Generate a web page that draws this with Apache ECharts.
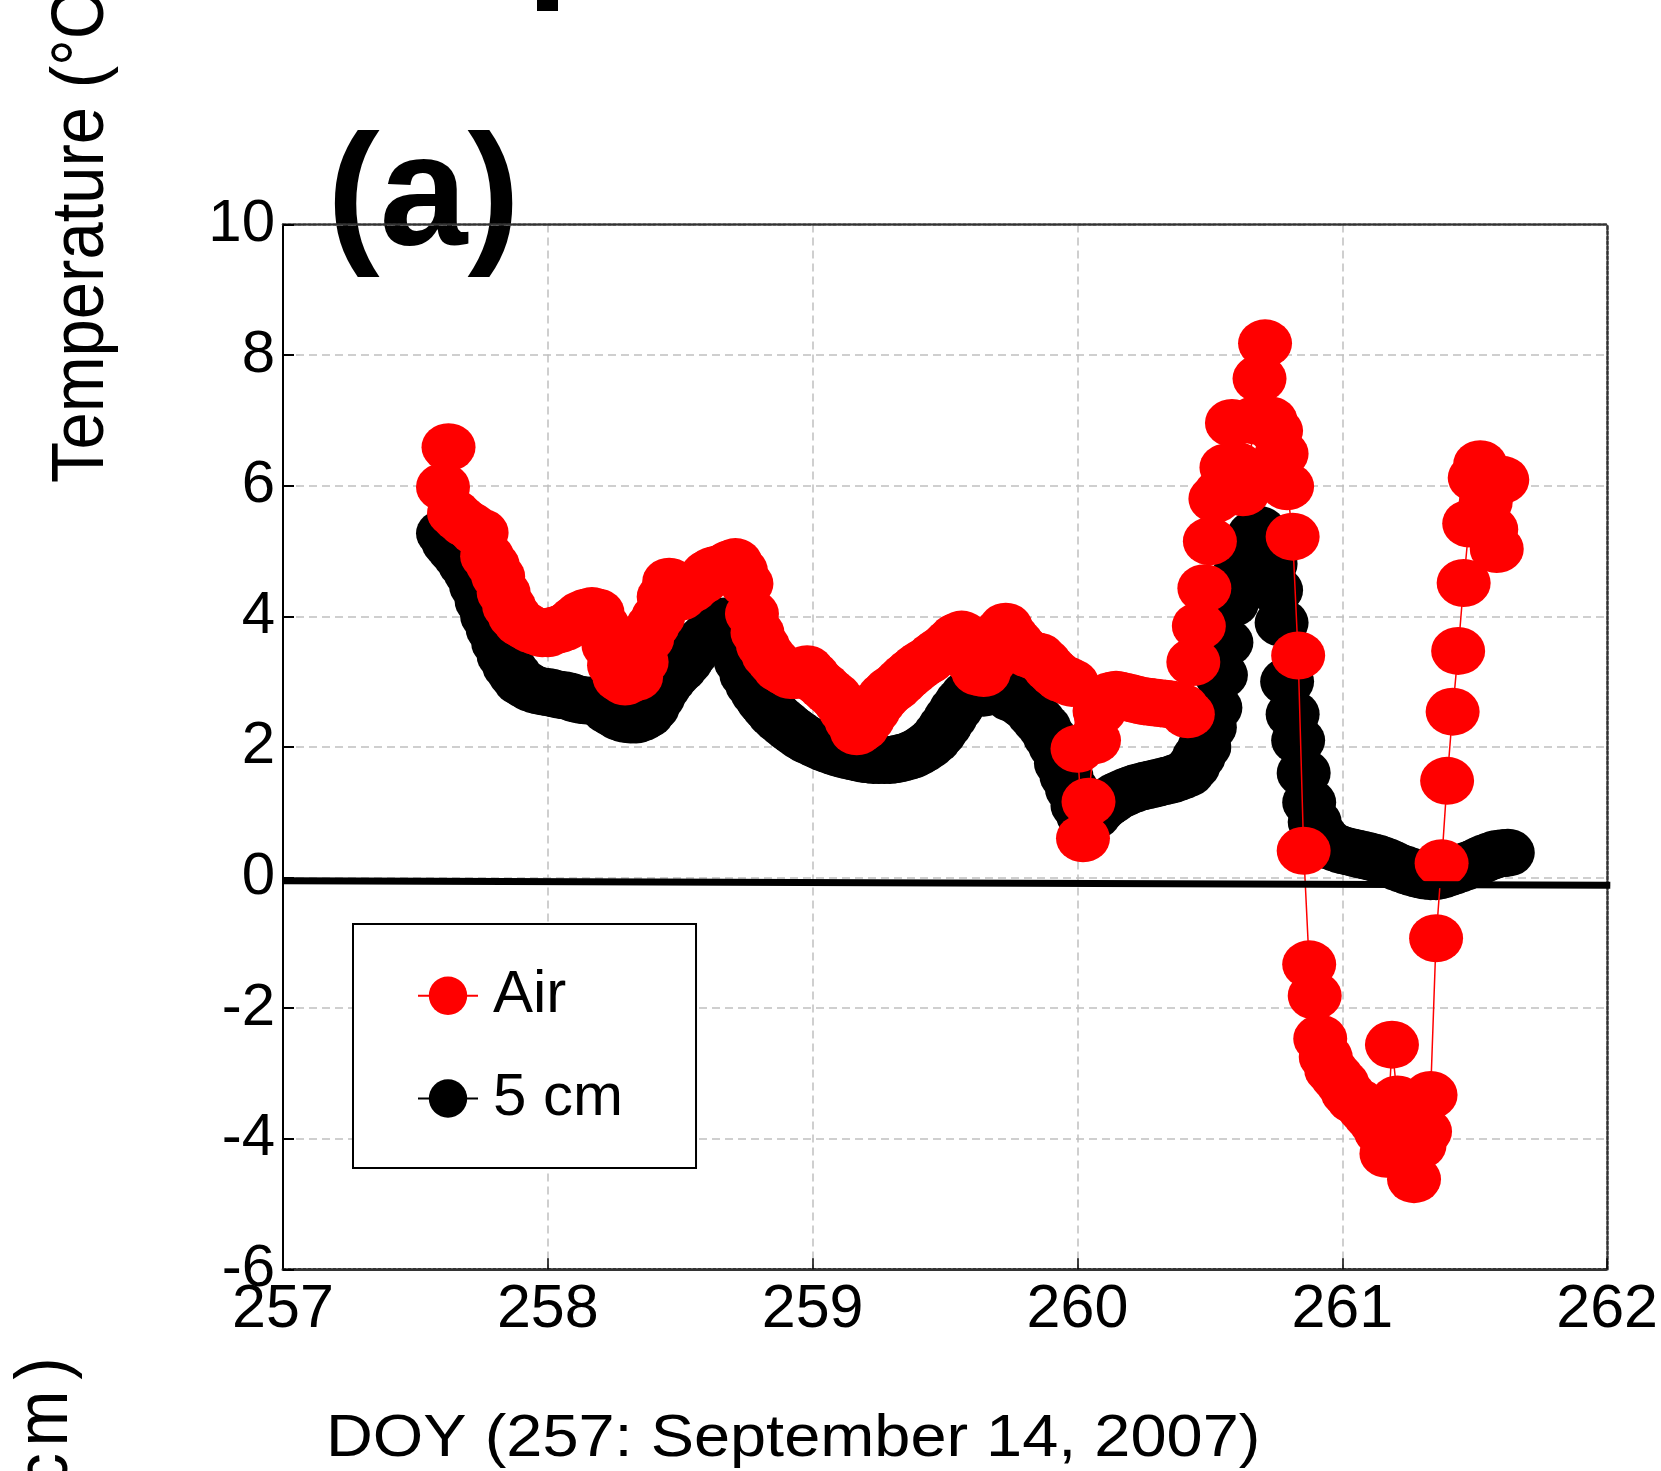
<!DOCTYPE html>
<html><head><meta charset="utf-8">
<script src="https://cdn.jsdelivr.net/npm/echarts@6/dist/echarts.min.js"></script>
<style>html,body{margin:0;padding:0;background:#fff}#c{width:1661px;height:1471px}</style>
</head><body><div id="c"></div>
<script>
// Half-hourly records, first record at DOY 257 + 29/48
const DOY_START = 257 + 29 / 48;
const DOY_STEP = 1 / 48;

// Air temperature (°C)
const airTemp = [
  5.98, 6.59, 5.58, 5.5, 5.43, 5.38, 5.3, 5.28, 4.92, 4.79, 4.61, 4.36, 4.15, 4.0, 3.9, 3.85, 3.8, 3.77, 3.74, 3.74,
  3.78, 3.8, 3.83, 3.88, 3.95, 4.02, 4.06, 4.08, 4.06, 3.85,
  3.55, 3.25, 3.06, 3.0, 3.05, 3.07, 3.3, 3.65, 3.85, 3.99,
  4.3, 4.53, 4.3, 4.3, 4.38, 4.42, 4.5, 4.55, 4.65, 4.7,
  4.72, 4.75, 4.8, 4.83, 4.7, 4.5, 4.04, 3.75, 3.55, 3.4,
  3.3, 3.2, 3.15, 3.1, 3.1, 3.15, 3.19, 3.1,
  3.0, 2.93, 2.85, 2.78, 2.68, 2.55, 2.4, 2.24, 2.3, 2.42,
  2.55, 2.68, 2.78, 2.86, 2.92, 3.0, 3.08, 3.15, 3.22, 3.28,
  3.33, 3.4, 3.46, 3.52, 3.6, 3.68, 3.72, 3.5, 3.3, 3.15,
  3.13, 3.3, 3.55, 3.75, 3.84, 3.7, 3.6, 3.5, 3.43, 3.4,
  3.38, 3.3, 3.2, 3.12, 3.05, 3.02, 2.98, 1.97,
  0.6, 1.16, 2.1, 2.55, 2.72, 2.78, 2.8, 2.78, 2.76, 2.74,
  2.72, 2.7, 2.69, 2.68, 2.67, 2.66, 2.65, 2.63, 2.6, 2.5,
  3.3, 3.85, 4.43, 5.15, 5.8, 5.9, 6.28, 6.96, 6.3, 5.9,
  6.2, 7.0, 7.64, 8.18, 7.0, 6.84, 6.49, 5.99, 5.22, 3.4,
  0.41, -1.33, -1.81, -2.47, -2.75, -2.95, -3.05, -3.15,
  -3.3, -3.4, -3.45, -3.55, -3.65, -3.75, -3.9, -4.23, -2.56, -3.4,
  -3.65, -3.9, -4.62, -4.1, -3.89, -3.33, -0.93, 0.22, 1.48, 2.54,
  3.47, 4.51, 5.42, 6.12, 6.33, 5.75, 5.33, 5.03, 6.09
];

// Soil temperature at 5 cm (°C)
const soil5cm = [
  5.27, 5.12, 5.02, 4.92, 4.79, 4.66, 4.46, 4.23, 4.0, 3.8, 3.59, 3.39, 3.23, 3.11, 3.0, 2.95, 2.9, 2.87, 2.85, 2.84,
  2.82, 2.8, 2.79, 2.77, 2.74, 2.72, 2.71, 2.71, 2.69, 2.64,
  2.56, 2.51, 2.46, 2.43, 2.42, 2.42, 2.45, 2.5, 2.6, 2.75,
  2.9, 3.02, 3.12, 3.2, 3.3, 3.42, 3.55, 3.62, 3.7, 3.78,
  3.85, 3.92, 3.8, 3.55, 3.3, 3.1, 2.95, 2.82, 2.7, 2.6,
  2.5, 2.42, 2.35, 2.28, 2.22, 2.16, 2.11, 2.07,
  2.03, 1.99, 1.96, 1.93, 1.9, 1.88, 1.86, 1.84, 1.82, 1.81,
  1.8, 1.8, 1.8, 1.8, 1.81, 1.83, 1.85, 1.88, 1.92, 1.97,
  2.03, 2.1, 2.2, 2.32, 2.45, 2.58, 2.7, 2.8, 2.85, 2.85,
  2.83, 2.85, 2.88, 2.9, 2.87, 2.75, 2.72, 2.66, 2.6, 2.5,
  2.4, 2.3, 2.15, 2.0, 1.75, 1.55, 1.35, 1.1,
  0.95, 0.9, 0.95, 1.05, 1.12, 1.18, 1.24, 1.28, 1.32, 1.35,
  1.38, 1.4, 1.42, 1.44, 1.46, 1.48, 1.5, 1.53, 1.56, 1.6,
  1.7, 1.85, 2.0, 2.3, 2.6, 3.1, 3.6, 4.2, 4.6, 4.9,
  5.1, 5.25, 5.32, 5.1, 4.8, 4.4, 3.9, 3.0, 2.5, 2.1,
  1.6, 1.15, 0.85, 0.65, 0.55, 0.48, 0.45, 0.42,
  0.4, 0.38, 0.36, 0.34, 0.32, 0.3, 0.27, 0.24, 0.2, 0.16,
  0.13, 0.1, 0.07, 0.05, 0.03, 0.02, 0.02, 0.04, 0.07, 0.1,
  0.13, 0.16, 0.19, 0.22, 0.26, 0.3, 0.33, 0.36, 0.37, 0.38
];

// Thick black reference line drawn near 0 °C
const zeroRefLine = [[257, -0.05], [262.012, -0.12]];

const xTicks = { min: 257, max: 262, step: 1 };
const yTicks = { min: -6, max: 10, step: 2 };
const seriesNames = ['Air', '5 cm'];

const toPairs = arr => arr.map((v, i) => [DOY_START + i * DOY_STEP, v]);
const FONT = '"Liberation Sans", Arial, sans-serif';

const chart = echarts.init(document.getElementById('c'), null, { renderer: 'canvas' });
chart.setOption({
  animation: false,
  backgroundColor: '#fff',
  grid: { left: 283, right: 50.5, top: 224.5, bottom: 201.7, containLabel: false },
  xAxis: [{
    type: 'value', min: xTicks.min, max: xTicks.max, interval: xTicks.step,
    axisLine: { show: true, onZero: false, lineStyle: { color: '#333', width: 3, type: [3, 2] } },
    axisTick: { show: true, inside: true, length: 11, lineStyle: { color: '#000', width: 1.5 } },
    axisLabel: { color: '#000', fontSize: 61, fontFamily: FONT, margin: 10 },
    splitLine: { show: true, lineStyle: { color: '#c0c0c0', width: 1.5, type: [8, 5] } }
  }, {
    type: 'value', position: 'top', min: xTicks.min, max: xTicks.max, interval: xTicks.step,
    axisLine: { show: true, onZero: false, lineStyle: { color: '#333', width: 2.5, type: [3, 2] } },
    axisTick: { show: false }, axisLabel: { show: false }, splitLine: { show: false }
  }],
  yAxis: [{
    type: 'value', min: yTicks.min, max: yTicks.max, interval: yTicks.step,
    axisLine: { show: true, onZero: false, lineStyle: { color: '#000', width: 2 } },
    axisTick: { show: true, inside: true, length: 11, lineStyle: { color: '#000', width: 2 } },
    axisLabel: { color: '#000', fontSize: 60, fontFamily: FONT, margin: 8 },
    splitLine: { show: true, lineStyle: { color: '#c0c0c0', width: 1.5, type: [8, 5] } }
  }, {
    type: 'value', position: 'right', min: yTicks.min, max: yTicks.max, interval: yTicks.step,
    axisLine: { show: true, onZero: false, lineStyle: { color: '#333', width: 2.5, type: [3, 2] } },
    axisTick: { show: false }, axisLabel: { show: false }, splitLine: { show: false }
  }],
  legend: {
    data: seriesNames,
    orient: 'vertical',
    left: 353, top: 924,
    padding: [41.7, 73, 39.5, 64],
    itemWidth: 60, itemHeight: 48, itemGap: 42.8,
    backgroundColor: '#fff',
    borderColor: '#000', borderWidth: 2, borderRadius: 0,
    textStyle: { color: '#000', fontSize: 60, fontFamily: FONT, padding: [0, 0, 0, 10] },
    selectedMode: false
  },
  series: [{
    name: '5 cm', type: 'line', data: toPairs(soil5cm),
    symbol: 'circle', symbolSize: [54, 48], showSymbol: true,
    itemStyle: { color: '#000' }, lineStyle: { color: '#000', width: 1.5 },
    z: 2, silent: true
  }, {
    name: 'Air', type: 'line', data: toPairs(airTemp),
    symbol: 'circle', symbolSize: [54, 48], showSymbol: true,
    itemStyle: { color: '#ff0000' }, lineStyle: { color: '#ff0000', width: 1.5 },
    z: 3, silent: true
  }, {
    name: 'ref0', type: 'line', data: zeroRefLine, symbol: 'none', clip: false,
    lineStyle: { color: '#000', width: 7 }, z: 5, silent: true
  }],
  graphic: [
    { type: 'rect', shape: { x: 537, y: 0, width: 21, height: 11 }, style: { fill: '#000' } },
    { type: 'text', x: 327, y: 200, style: { text: '(a)', font: 'bold 158px ' + FONT, fill: '#000', align: 'left', verticalAlign: 'middle' } },
    { type: 'text', x: 83, y: 483, rotation: Math.PI / 2, scaleY: 1.1,
      style: { text: 'Temperature (°C)', font: '67px ' + FONT, fill: '#000', align: 'left', verticalAlign: 'middle' } },
    { type: 'text', x: 46.5, y: 1368.5, rotation: Math.PI / 2, scaleY: 1.1,
      style: { text: ')', font: '67px ' + FONT, fill: '#000', align: 'center', verticalAlign: 'middle' } },
    { type: 'text', x: 46.5, y: 1418.5, rotation: Math.PI / 2, scaleY: 1.1,
      style: { text: 'm', font: '67px ' + FONT, fill: '#000', align: 'center', verticalAlign: 'middle' } },
    { type: 'text', x: 46.5, y: 1470, rotation: Math.PI / 2, scaleY: 1.1,
      style: { text: 'c', font: '67px ' + FONT, fill: '#000', align: 'center', verticalAlign: 'middle' } },
    { type: 'text', x: 326, y: 1440, scaleX: 1.1,
      style: { text: 'DOY (257: September 14, 2007)', font: '59px ' + FONT, fill: '#000', align: 'left', verticalAlign: 'middle' } }
  ]
});
</script>
</body></html>
